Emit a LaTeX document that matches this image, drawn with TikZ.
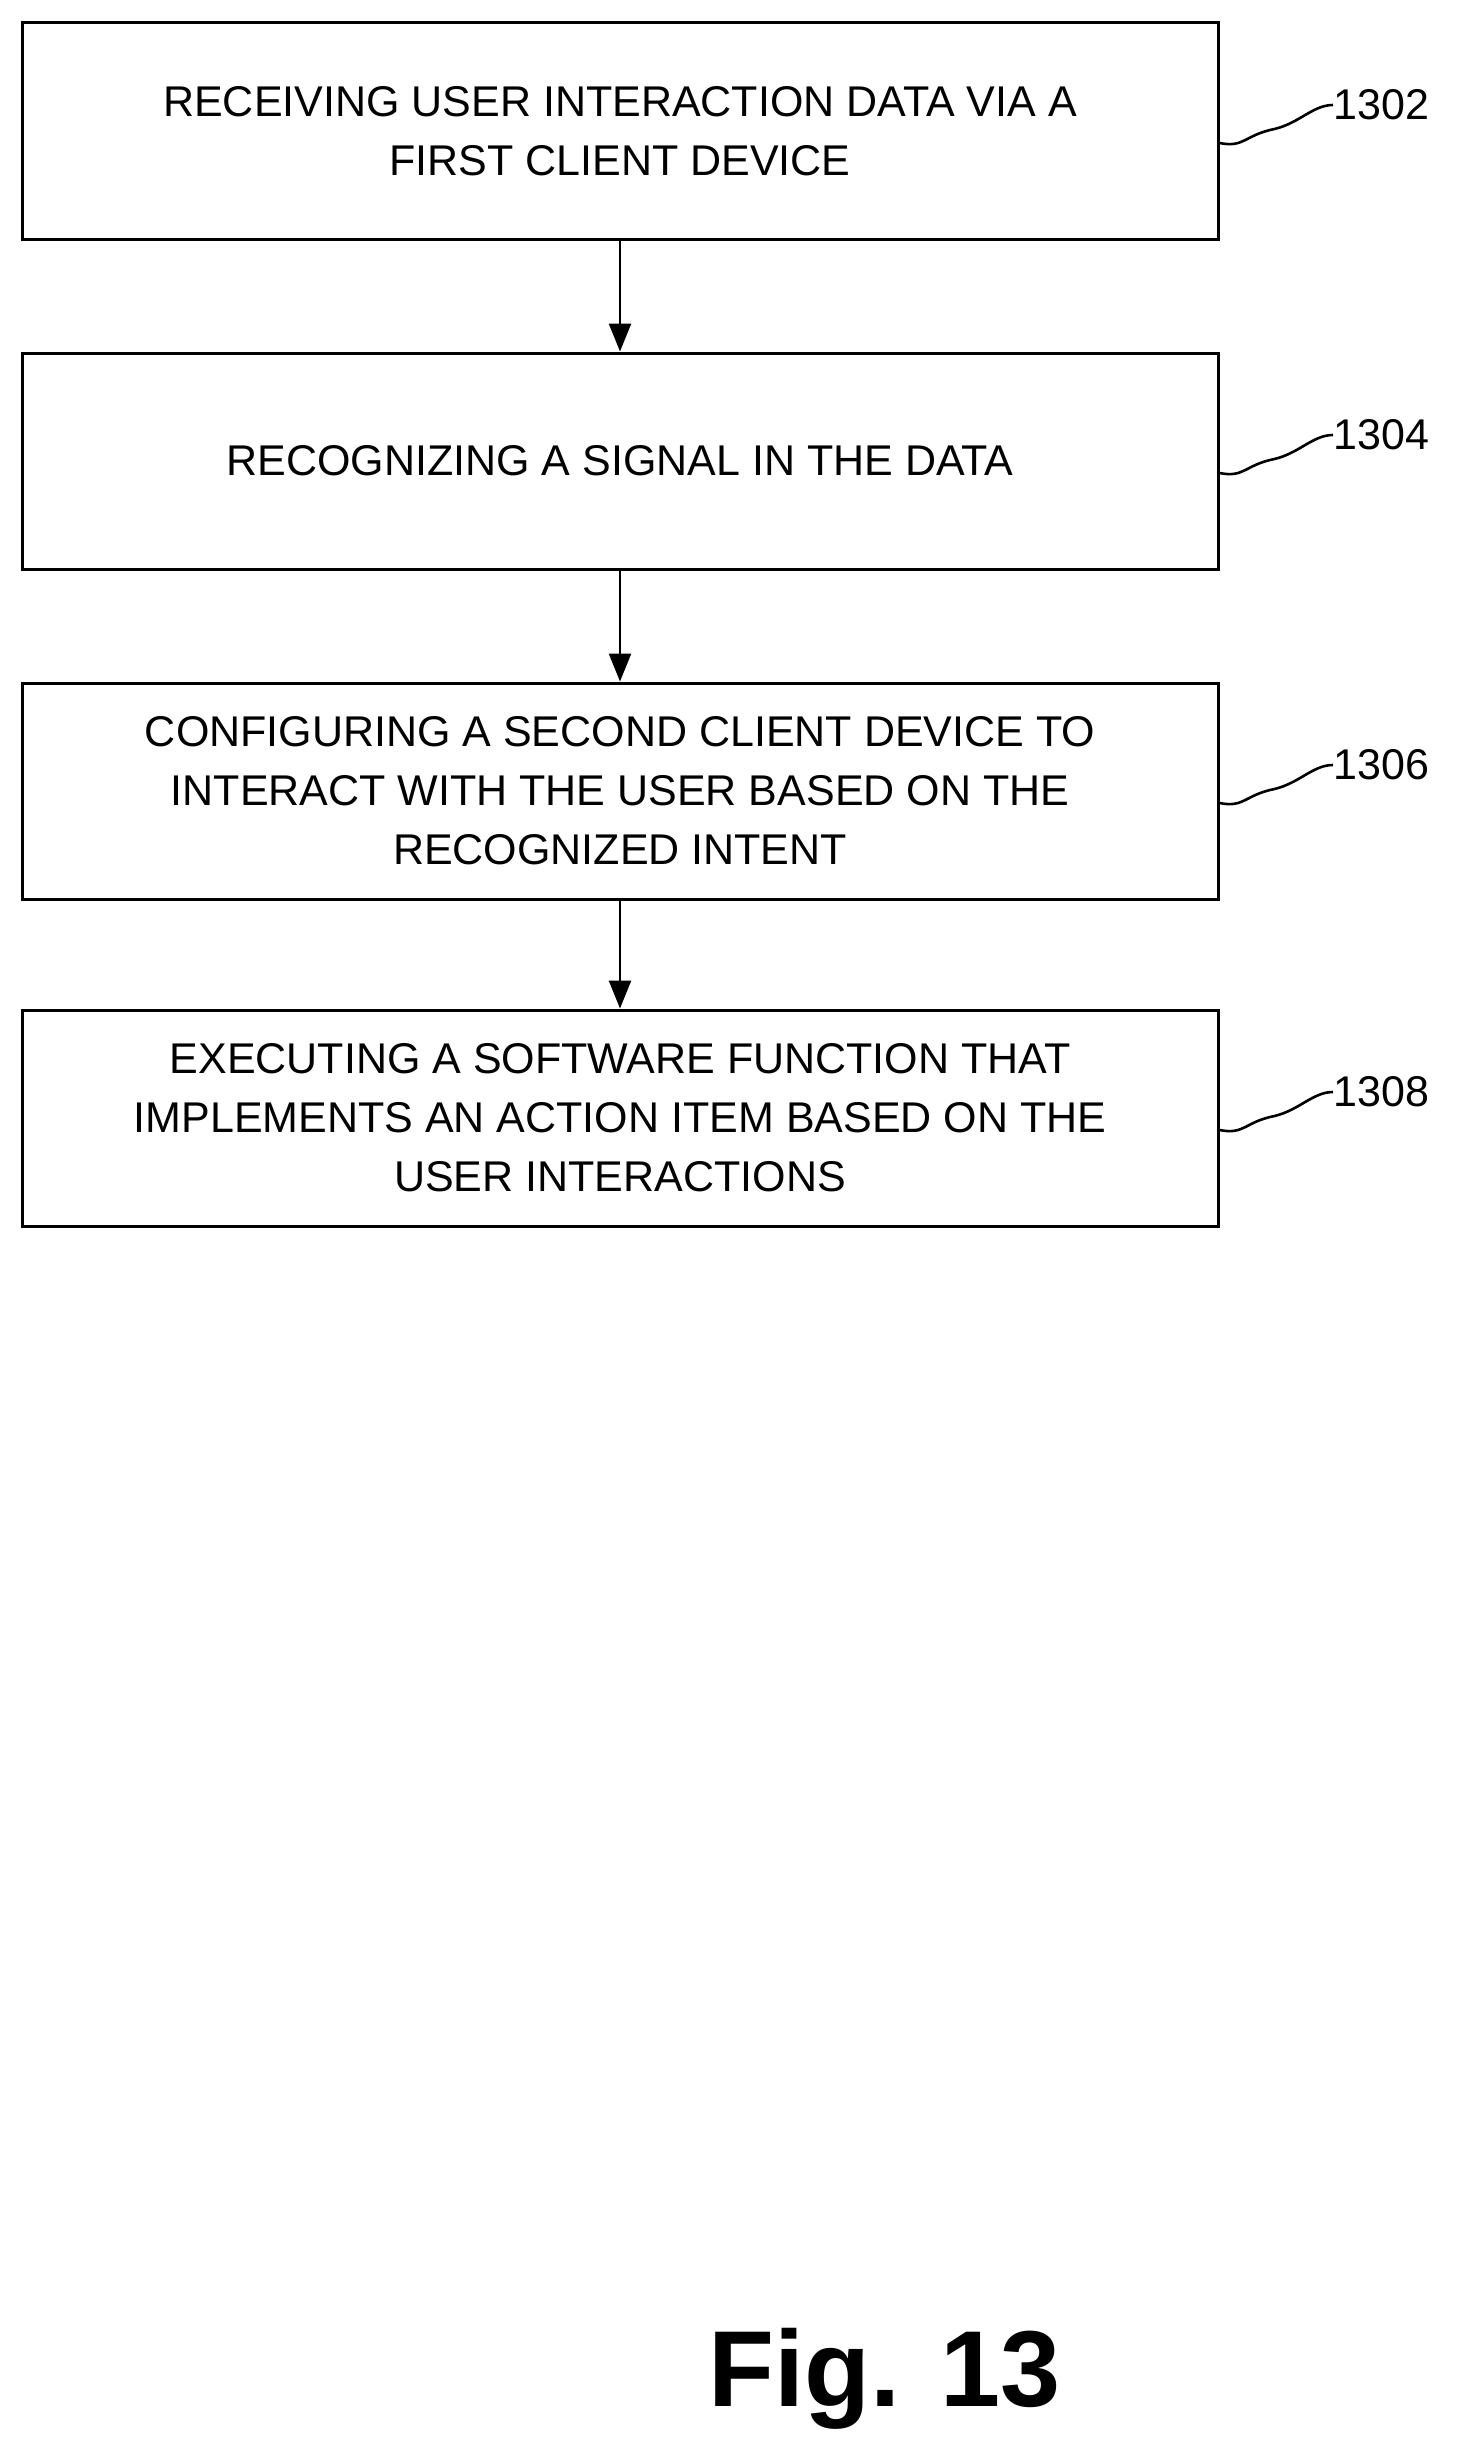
\documentclass[tikz,border=0pt]{standalone}
\usepackage{fontspec}
\setmainfont{Liberation Sans}
\usetikzlibrary{arrows.meta}
\begin{document}
\begin{tikzpicture}[x=0.5pt,y=-0.5pt,
  box/.style={draw,line width=1.5pt,minimum width=598pt,minimum height=108pt,align=center,font=\fontsize{21.5}{29.5}\selectfont,inner sep=0pt},
  arr/.style={line width=1.3pt,-{Triangle[length=14pt,width=11pt]}},
  lab/.style={anchor=west,font=\fontsize{21.5}{26}\selectfont,inner sep=0pt},
  sq/.style={line width=1.3pt}]
\useasboundingbox (0,0) rectangle (1466,2462);
\node[box] (b1) at (620,131) {RECEIVING USER INTERACTION DATA VIA A\\FIRST CLIENT DEVICE};
\node[box] (b2) at (620,461) {RECOGNIZING A SIGNAL IN THE DATA};
\node[box] (b3) at (620,791) {CONFIGURING A SECOND CLIENT DEVICE TO\\INTERACT WITH THE USER BASED ON THE\\RECOGNIZED INTENT};
\node[box] (b4) at (620,1118) {EXECUTING A SOFTWARE FUNCTION THAT\\IMPLEMENTS AN ACTION ITEM BASED ON THE\\USER INTERACTIONS};
\draw[arr] (b1) -- (b2);
\draw[arr] (b2) -- (b3);
\draw[arr] (b3) -- (b4);
\foreach \b/\n/\y in {b1/1302/105,b2/1304/435,b3/1306/765,b4/1308/1092}{
  \node[lab] (l\n) at (1333,\y) {\n};
  \coordinate (s\n) at ([yshift=-6pt]\b.east);
  \draw[sq] (s\n) .. controls ++(25,5) and ++(-30,6) .. ++(55,-14) .. controls ++(25,-6) and ++(-20,0) .. (l\n.west);
}
\node[font=\bfseries\fontsize{54}{60}\selectfont] (fig) at (885,2379) {Fig. 13};
\end{tikzpicture}
\end{document}
